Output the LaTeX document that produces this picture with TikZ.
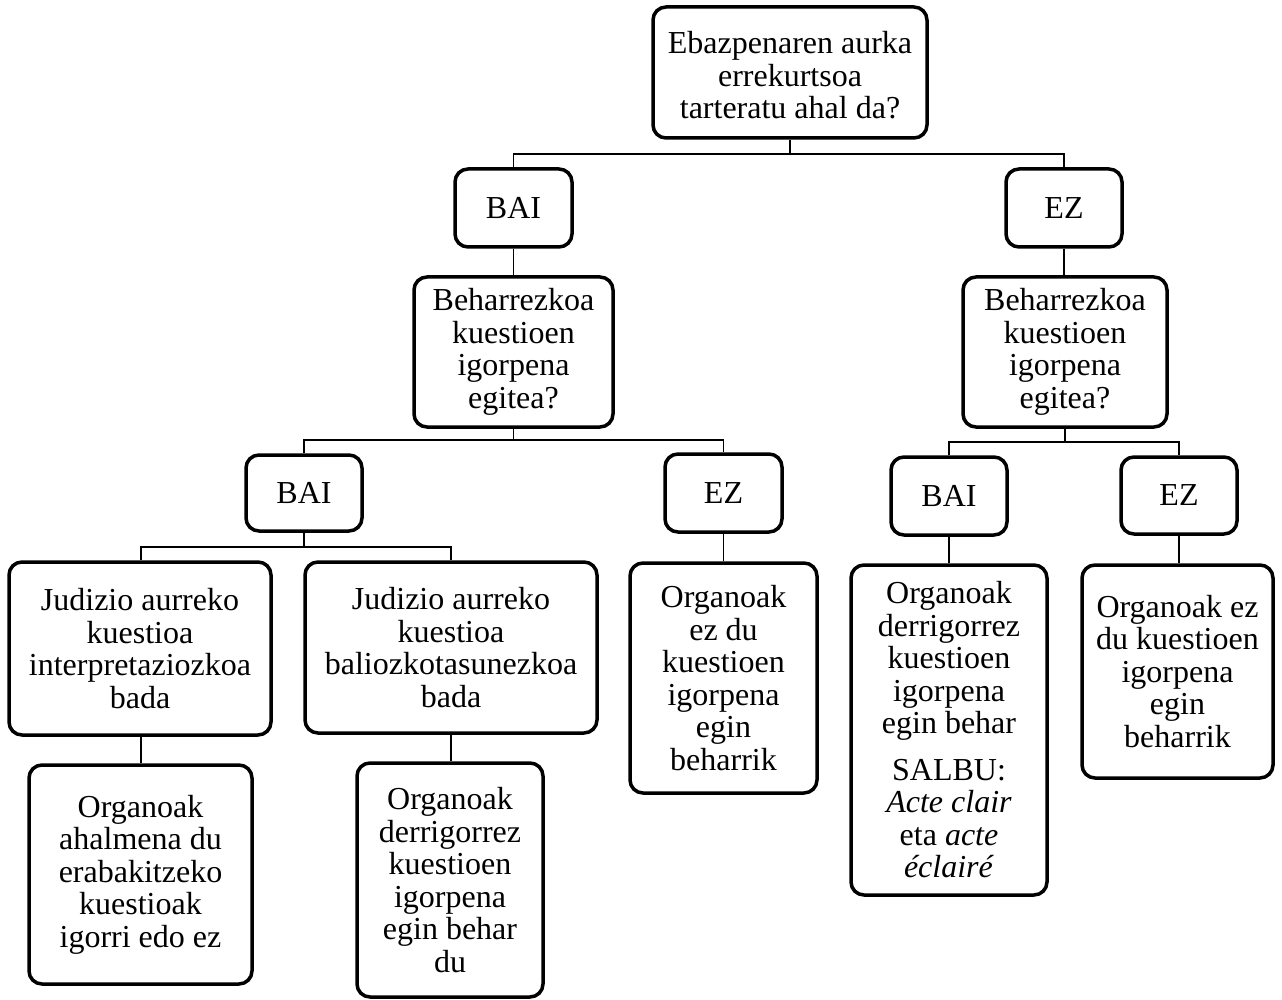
\documentclass[tikz,border=0pt]{standalone}
\usepackage{fontspec}
\setmainfont{Liberation Serif}
\begin{document}
\begin{tikzpicture}[x=1pt,y=-1pt,
  box/.style={draw=black, line width=3.5pt, rounded corners=13pt, align=center,
    inner sep=0pt, font=\fontsize{32}{32.5}\selectfont},
  conn/.style={draw=black, line width=1.6pt}]
\fill[white] (0,0) rectangle (1282,1000);
% level 0
\node[box, minimum width=274pt, minimum height=131pt] (top) at (790,72.5)
  {\rule{0pt}{28pt}Ebazpenaren aurka\\errekurtsoa\\tarteratu ahal da?};
% level 1
\node[box, minimum width=117pt, minimum height=78pt] (bai1) at (513.5,208) {BAI};
\node[box, minimum width=116pt, minimum height=78pt] (ez1) at (1064,208) {EZ};
% level 2
\node[box, minimum width=199pt, minimum height=150pt] (behL) at (513.5,352)
  {Beharrezkoa\\kuestioen\\igorpena\\egitea?};
\node[box, minimum width=204pt, minimum height=150pt] (behR) at (1065,352)
  {Beharrezkoa\\kuestioen\\igorpena\\egitea?};
% level 3
\node[box, minimum width=116pt, minimum height=76pt] (bai2) at (304,493) {BAI};
\node[box, minimum width=117pt, minimum height=78pt] (ez2) at (723.5,493) {EZ};
\node[box, minimum width=116pt, minimum height=78pt] (bai3) at (949,496) {BAI};
\node[box, minimum width=116pt, minimum height=77pt] (ez3) at (1179,495.5) {EZ};
% level 4
\node[box, minimum width=262pt, minimum height=173pt] (j1) at (140,648.5)
  {Judizio aurreko\\kuestioa\\interpretaziozkoa\\bada};
\node[box, minimum width=292pt, minimum height=171pt] (j2) at (451,647.5)
  {Judizio aurreko\\kuestioa\\baliozkotasunezkoa\\bada};
\node[box, minimum width=187pt, minimum height=230pt] (oez1) at (723.5,678)
  {Organoak\\ez du\\kuestioen\\igorpena\\egin\\beharrik};
\node[box, minimum width=196pt, minimum height=330pt] (oder) at (949,730)
  {Organoak\\derrigorrez\\kuestioen\\igorpena\\egin behar\\[14pt]SALBU:\\\textit{Acte clair}\\eta \textit{acte}\\\textit{éclairé}};
\node[box, minimum width=191pt, minimum height=213pt] (oez2) at (1177.5,671.5)
  {Organoak ez\\du kuestioen\\igorpena\\egin\\beharrik};
% level 5
\node[box, minimum width=223pt, minimum height=219pt] (o1) at (140.5,874.5)
  {Organoak\\ahalmena du\\erabakitzeko\\kuestioak\\igorri edo ez};
\node[box, minimum width=186pt, minimum height=234pt] (o2) at (450,880)
  {Organoak\\derrigorrez\\kuestioen\\igorpena\\egin behar\\du};
% junction coordinates
\coordinate (jA) at (788,154);
\coordinate (jB) at (513.5,440);
\coordinate (jC) at (1065,442);
\coordinate (jD) at (304,547);
% connectors
\draw[conn] (top.south) -- (top.south |- jA);
\draw[conn] (bai1.north) |- (ez1.north |- jA) -- (ez1.north);
\draw[conn] (bai1.south) -- (bai1.south |- behL.north);
\draw[conn] (ez1.south) -- (ez1.south |- behR.north);
\draw[conn] (behL.south) -- (behL.south |- jB);
\draw[conn] (bai2.north) |- (ez2.north |- jB) -- (ez2.north);
\draw[conn] (behR.south) -- (behR.south |- jC);
\draw[conn] (bai3.north) |- (ez3.north |- jC) -- (ez3.north);
\draw[conn] (bai2.south) -- (bai2.south |- jD);
\draw[conn] (j1.north -| 141,0) |- (451,547) -- (451,0 |- j2.north);
\draw[conn] (ez2.south) -- (ez2.south |- oez1.north);
\draw[conn] (bai3.south) -- (bai3.south |- oder.north);
\draw[conn] (ez3.south) -- (ez3.south |- oez2.north);
\draw[conn] (j1.south -| 141,0) -- (o1.north -| 141,0);
\draw[conn] (j2.south) -- (j2.south |- o2.north);
\end{tikzpicture}
\end{document}
